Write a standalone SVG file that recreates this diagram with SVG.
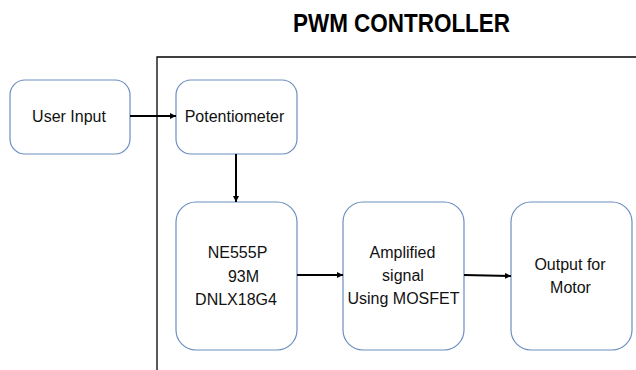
<svg xmlns="http://www.w3.org/2000/svg" width="636" height="370" viewBox="0 0 636 370">
<style>
.box{fill:#fff;stroke:#6c8ebf;stroke-width:1.2}
.t{font-family:"Liberation Sans",Arial,sans-serif;font-size:16px;fill:#111;text-anchor:middle}
.title{font-family:"Liberation Sans",Arial,sans-serif;font-size:25px;font-weight:bold;fill:#000;text-anchor:middle}
.c{stroke:#000;stroke-width:2;fill:none}
.frame{stroke:#000;stroke-width:1.3;fill:none}
</style>
<defs>
<marker id="ah" markerWidth="8" markerHeight="8" refX="6" refY="3" orient="auto" markerUnits="userSpaceOnUse">
<path d="M0,0 L6,3 L0,6 Z" fill="#000"/>
</marker>
</defs>
<rect width="636" height="370" fill="#fff"/>
<text class="title" x="401.5" y="32" textLength="217" lengthAdjust="spacingAndGlyphs">PWM CONTROLLER</text>
<path class="frame" d="M157,370 V57 H636"/>
<g id="user-input">
<rect class="box" x="10" y="80" width="120" height="74" rx="15"/>
<text class="t" x="69" y="122">User Input</text>
</g>
<g id="potentiometer">
<rect class="box" x="176" y="80" width="121" height="74" rx="15"/>
<text class="t" x="234.5" y="122">Potentiometer</text>
</g>
<g id="ne555p">
<rect class="box" x="176" y="202" width="121" height="148" rx="20"/>
<text class="t" x="237.5" y="258">NE555P</text>
<text class="t" x="243.5" y="282">93M</text>
<text class="t" x="236" y="305">DNLX18G4</text>
</g>
<g id="amplified">
<rect class="box" x="343" y="202" width="121" height="148" rx="20"/>
<text class="t" x="402.5" y="258">Amplified</text>
<text class="t" x="403" y="281">signal</text>
<text class="t" x="403.5" y="304">Using MOSFET</text>
</g>
<g id="output">
<rect class="box" x="511" y="202" width="121" height="148" rx="20"/>
<text class="t" x="570" y="270">Output for</text>
<text class="t" x="570.5" y="293">Motor</text>
</g>
<g id="connectors">
<line class="c" x1="130" y1="116" x2="176" y2="116" marker-end="url(#ah)"/>
<line class="c" x1="236" y1="154" x2="236" y2="202" marker-end="url(#ah)"/>
<line class="c" x1="297" y1="275" x2="343" y2="275" marker-end="url(#ah)"/>
<line class="c" x1="464" y1="275" x2="511" y2="276" marker-end="url(#ah)"/>
</g>
</svg>
